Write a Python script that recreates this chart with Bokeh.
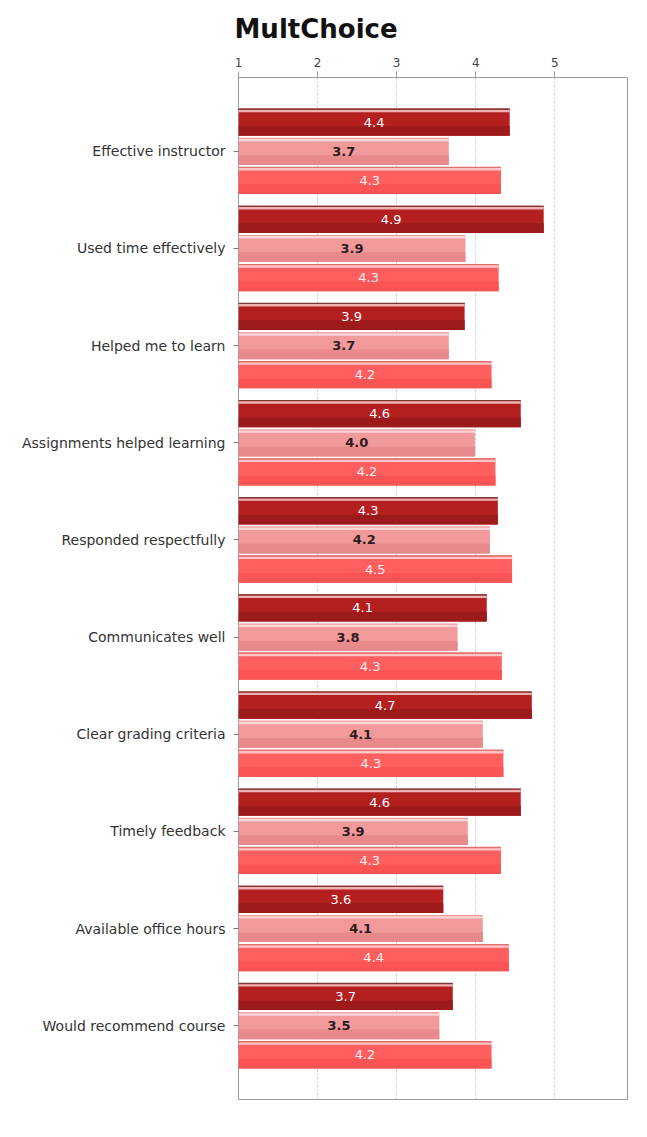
from bokeh.plotting import figure
from bokeh.models import (ColumnDataSource, FactorRange, Range1d, FixedTicker,
                          Legend, LegendItem)
from bokeh.core.properties import value
from bokeh.transform import dodge
from bokeh.embed import file_html
from bokeh.resources import INLINE

categories = ["Effective instructor", "Used time effectively", "Helped me to learn",
              "Assignments helped learning", "Responded respectfully",
              "Communicates well", "Clear grading criteria", "Timely feedback",
              "Available office hours", "Would recommend course"]
instructor_mean = [4.43, 4.86, 3.86, 4.57, 4.28, 4.14, 4.71, 4.57, 3.59, 3.71]
department_mean = [3.66, 3.87, 3.66, 3.99, 4.18, 3.77, 4.09, 3.90, 4.09, 3.54]
university_mean = [4.32, 4.29, 4.20, 4.25, 4.46, 4.33, 4.35, 4.32, 4.42, 4.20]
series_names = ["Instructor Mean", "Department Mean", "University Mean"]
x_ticks = [1, 2, 3, 4, 5]
x_start = 1

FONT = "DejaVu Sans"

p = figure(frame_width=389, frame_height=1022, output_backend="svg",
           toolbar_location=None,
           x_range=Range1d(1, 5.92),
           y_range=FactorRange(factors=categories[::-1], range_padding=0.26,
                               range_padding_units="absolute"),
           x_axis_location="above",
           min_border_left=238, min_border_right=18, min_border_top=73,
           min_border_bottom=30)

p.title.text = "MultChoice"
p.title.text_font = FONT
p.title.text_font_size = "26px"
p.title.text_font_style = "bold"
p.title.text_color = "#111111"
p.title.align = "left"
p.title.offset = -4
p.title.standoff = 22

p.outline_line_color = "#9a9a9a"
p.outline_line_width = 1
p.background_fill_color = "white"
p.border_fill_color = "white"

# axes
xa = p.xaxis[0]
xa.ticker = FixedTicker(ticks=x_ticks)
xa.axis_line_color = None
xa.major_tick_line_color = "#999999"
xa.major_tick_out = 6
xa.major_tick_in = 0
xa.minor_tick_line_color = None
xa.major_label_text_font = FONT
xa.major_label_text_font_size = "12px"
xa.major_label_text_color = "#444444"
xa.major_label_standoff = 5

ya = p.yaxis[0]
ya.axis_line_color = None
ya.major_tick_line_color = "#777777"
ya.major_tick_out = 5
ya.major_tick_in = 0
ya.major_label_text_font = FONT
ya.major_label_text_font_size = "14px"
ya.major_label_text_color = "#333333"
ya.major_label_standoff = 8

p.ygrid.grid_line_color = None
p.xgrid.ticker = FixedTicker(ticks=x_ticks)
p.xgrid.grid_line_color = "#c4c4c4"
p.xgrid.grid_line_dash = "2 2"

src = ColumnDataSource(dict(
    cat=categories,
    ins=instructor_mean, dep=department_mean, uni=university_mean,
    ins_mid=[(x_start + v) / 2 for v in instructor_mean],
    dep_mid=[(x_start + v) / 2 for v in department_mean],
    uni_mid=[(x_start + v) / 2 for v in university_mean],
    ins_lbl=[f"{v:.1f}" for v in instructor_mean],
    dep_lbl=[f"{v:.1f}" for v in department_mean],
    uni_lbl=[f"{v:.1f}" for v in university_mean],
))

specs = [
    # field, offset, body, shade, highlight, topline, label color, weight
    ("ins", 0.30, "#b42020", "#9c1a1a", "#efb2b2", "#7a3a3a", "#ffffff", "normal"),
    ("dep", 0.0, "#f2999b", "#e88a8c", "#fbd6d6", None, "#2e1c1c", "bold"),
    ("uni", -0.30, "#ff5f5f", "#fa5454", "#ffc6c6", "#e07070", "#fff0f0", "normal"),
]
H = 0.28
body_renderers = []
for field, off, body, shade, hl, top, lc, fw in specs:
    r = p.hbar(y=dodge("cat", off, range=p.y_range), height=H, left=x_start,
               right=field, source=src, fill_color=body, line_color=None)
    body_renderers.append(r)
    # darker lower band
    p.hbar(y=dodge("cat", off - 0.09, range=p.y_range), height=0.10, left=x_start,
           right=field, source=src, fill_color=shade, line_color=None)
    # highlight near top
    p.hbar(y=dodge("cat", off + 0.115, range=p.y_range), height=0.025, left=x_start,
           right=field, source=src, fill_color=hl, line_color=None)
    if top:
        p.hbar(y=dodge("cat", off + 0.135, range=p.y_range), height=0.012,
               left=x_start, right=field, source=src, fill_color=top,
               line_color=None)
    p.text(x=field + "_mid", y=dodge("cat", off, range=p.y_range),
           text=field + "_lbl", source=src, text_align="center",
           text_baseline="middle", text_font_size="13px", text_color=lc,
           text_font=value(FONT), text_font_style=fw)

legend_items = [LegendItem(label=name, renderers=[r])
                for name, r in zip(series_names, body_renderers)]

legend = Legend(items=legend_items, orientation="horizontal",
                location="bottom_right",
                padding=0, margin=0, border_line_color=None,
                background_fill_alpha=0, glyph_width=10, glyph_height=10,
                label_text_font=FONT, label_text_font_size="14px",
                label_text_color="#222222", spacing=11, label_standoff=6,
                label_height=14)
p.add_layout(legend, "below")

open("out.html", "w").write(file_html(p, INLINE))
